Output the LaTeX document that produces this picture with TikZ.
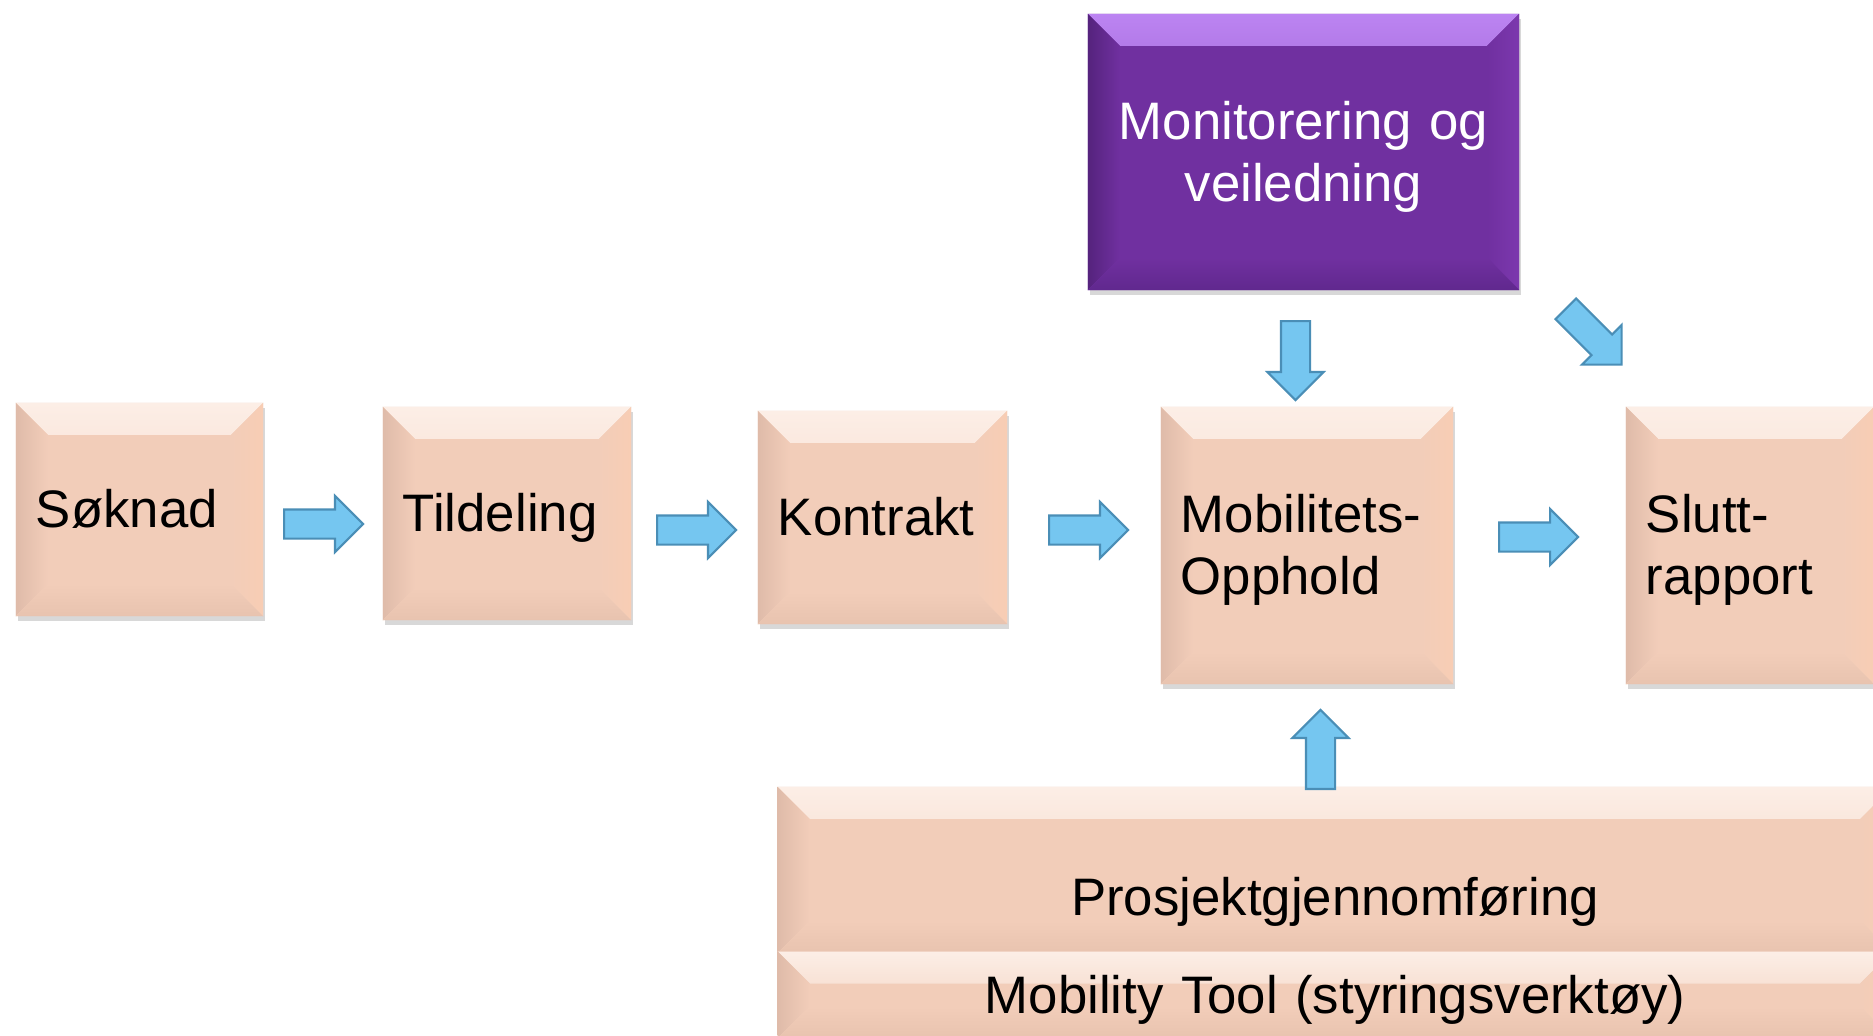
\documentclass[tikz,border=0pt]{standalone}
\usepackage{fontspec}
\setmainfont{Liberation Sans}
\usetikzlibrary{positioning,calc,shapes.arrows,shadows}

\definecolor{peach}{HTML}{F2CDB9}
\definecolor{peachtop}{HTML}{FCEEE6}
\definecolor{peachleft}{HTML}{DFBBA9}
\definecolor{peachright}{HTML}{F8CDB4}
\definecolor{peachbot}{HTML}{E8C3AF}
\definecolor{lilla}{HTML}{7030A0}
\definecolor{lillatop}{HTML}{BC84F2}
\definecolor{lillaleft}{HTML}{55237D}
\definecolor{lillaright}{HTML}{7C38AE}
\definecolor{lillabot}{HTML}{60288E}
\definecolor{arrowblue}{HTML}{75C6F0}
\definecolor{arrowline}{HTML}{4A8EB6}

\newcommand{\bevelpic}[5]{
	\def\bb{path picture bounding box}
	\fill[top color=#1, bottom color=#5] (\bb.north west) -- (\bb.north east) -- ([shift={(-0.32cm,-0.32cm)}]\bb.north east) -- ([shift={(0.32cm,-0.32cm)}]\bb.north west) -- cycle;
	\fill[left color=#2, right color=#5] (\bb.north west) -- ([shift={(0.32cm,-0.32cm)}]\bb.north west) -- ([shift={(0.32cm,0.32cm)}]\bb.south west) -- (\bb.south west) -- cycle;
	\fill[left color=#5, right color=#3] (\bb.north east) -- (\bb.south east) -- ([shift={(-0.32cm,0.32cm)}]\bb.south east) -- ([shift={(-0.32cm,-0.32cm)}]\bb.north east) -- cycle;
	\fill[top color=#5, bottom color=#4] (\bb.south west) -- ([shift={(0.32cm,0.32cm)}]\bb.south west) -- ([shift={(-0.32cm,0.32cm)}]\bb.south east) -- (\bb.south east) -- cycle;
}

\tikzset{
	box/.style={inner xsep=0.2cm, inner ysep=0pt, text height=13.6pt, text depth=3.2pt, font=\fontsize{15}{17.6}\selectfont, drop shadow={shadow xshift=0.02cm, shadow yshift=-0.05cm, opacity=0.3}},
	twolines/.style={text depth=20.8pt},
	peachbox/.style={box, fill=peach, align=left, path picture={\bevelpic{peachtop}{peachleft}{peachright}{peachbot}{peach}}},
	widebox/.style={peachbox, align=center, text width=10.74cm},
	purplebox/.style={box, fill=lilla, text=white, align=center, path picture={\bevelpic{lillatop}{lillaleft}{lillaright}{lillabot}{lilla}}},
	blockarrow/.style={single arrow, draw=arrowline, fill=arrowblue, line width=0.6pt, inner xsep=0pt, inner ysep=0.135cm, single arrow head extend=0.135cm, minimum height=0.79cm, anchor=tail},
}

\begin{document}
\begin{tikzpicture}[x=0.01cm, y=-0.01cm]
	\path[use as bounding box, fill=white] (0,0) rectangle (1873,1035);
	\clip (0,0) rectangle (1873,1035);

	\node[peachbox, text width=2.07cm, minimum height=2.13cm] (soknad) at (139.5,509.5) {Søknad};
	\node[peachbox, text width=2.08cm, minimum height=2.13cm] (tildeling) at (507,513.5) {Tildeling};
	\node[peachbox, text width=2.09cm, minimum height=2.13cm] (kontrakt) at (882.5,517.5) {Kontrakt};
	\node[peachbox, twolines, text width=2.52cm, minimum height=2.77cm] (mobilitet) at (1307,545.5) {Mobilitets-\\Opphold};
	\node[peachbox, twolines, text width=2.08cm, minimum height=2.77cm] (sluttrapport) at (1750,545.5) {Slutt-\\rapport};
	\node[purplebox, twolines, text width=3.91cm, minimum height=2.76cm] (monitorering) at (1303.5,152) {Monitorering og\\veiledning};
	\node[widebox, minimum height=1.66cm, text height=28.9pt] (prosjekt) at (1335,870) {Prosjektgjennomføring};
	\node[widebox, minimum height=0.87cm] (mobilitytool) at (1335,995) {Mobility Tool (styringsverktøy)};

	\node[blockarrow] (pil1) at ($(soknad.east)!.5!(tildeling.west)+(-40,12.5)$) {};
	\node[blockarrow] (pil2) at ($(tildeling.east)!.5!(kontrakt.west)+(-38.5,14.5)$) {};
	\node[blockarrow] (pil3) at ($(kontrakt.east)!.5!(mobilitet.west)+(-36,-1.5)$) {};
	\node[blockarrow] (pil4) at ($(mobilitet.east)!.5!(sluttrapport.west)+(-41.5,-8.5)$) {};
	\node[blockarrow, rotate=-90] (pilned) at ($(monitorering.south)!.5!(mobilitet.north)+(-9.75,-28.5)$) {};
	\node[blockarrow, rotate=-45] (pilskra) at ($(monitorering.south east)!.5!(sluttrapport.north west)+(-7.5,-40.5)$) {};
	\node[blockarrow, rotate=90] (pilopp) at ($(prosjekt.north)!.5!(mobilitet.south)+(-0.5,54.5)$) {};
\end{tikzpicture}
\end{document}
